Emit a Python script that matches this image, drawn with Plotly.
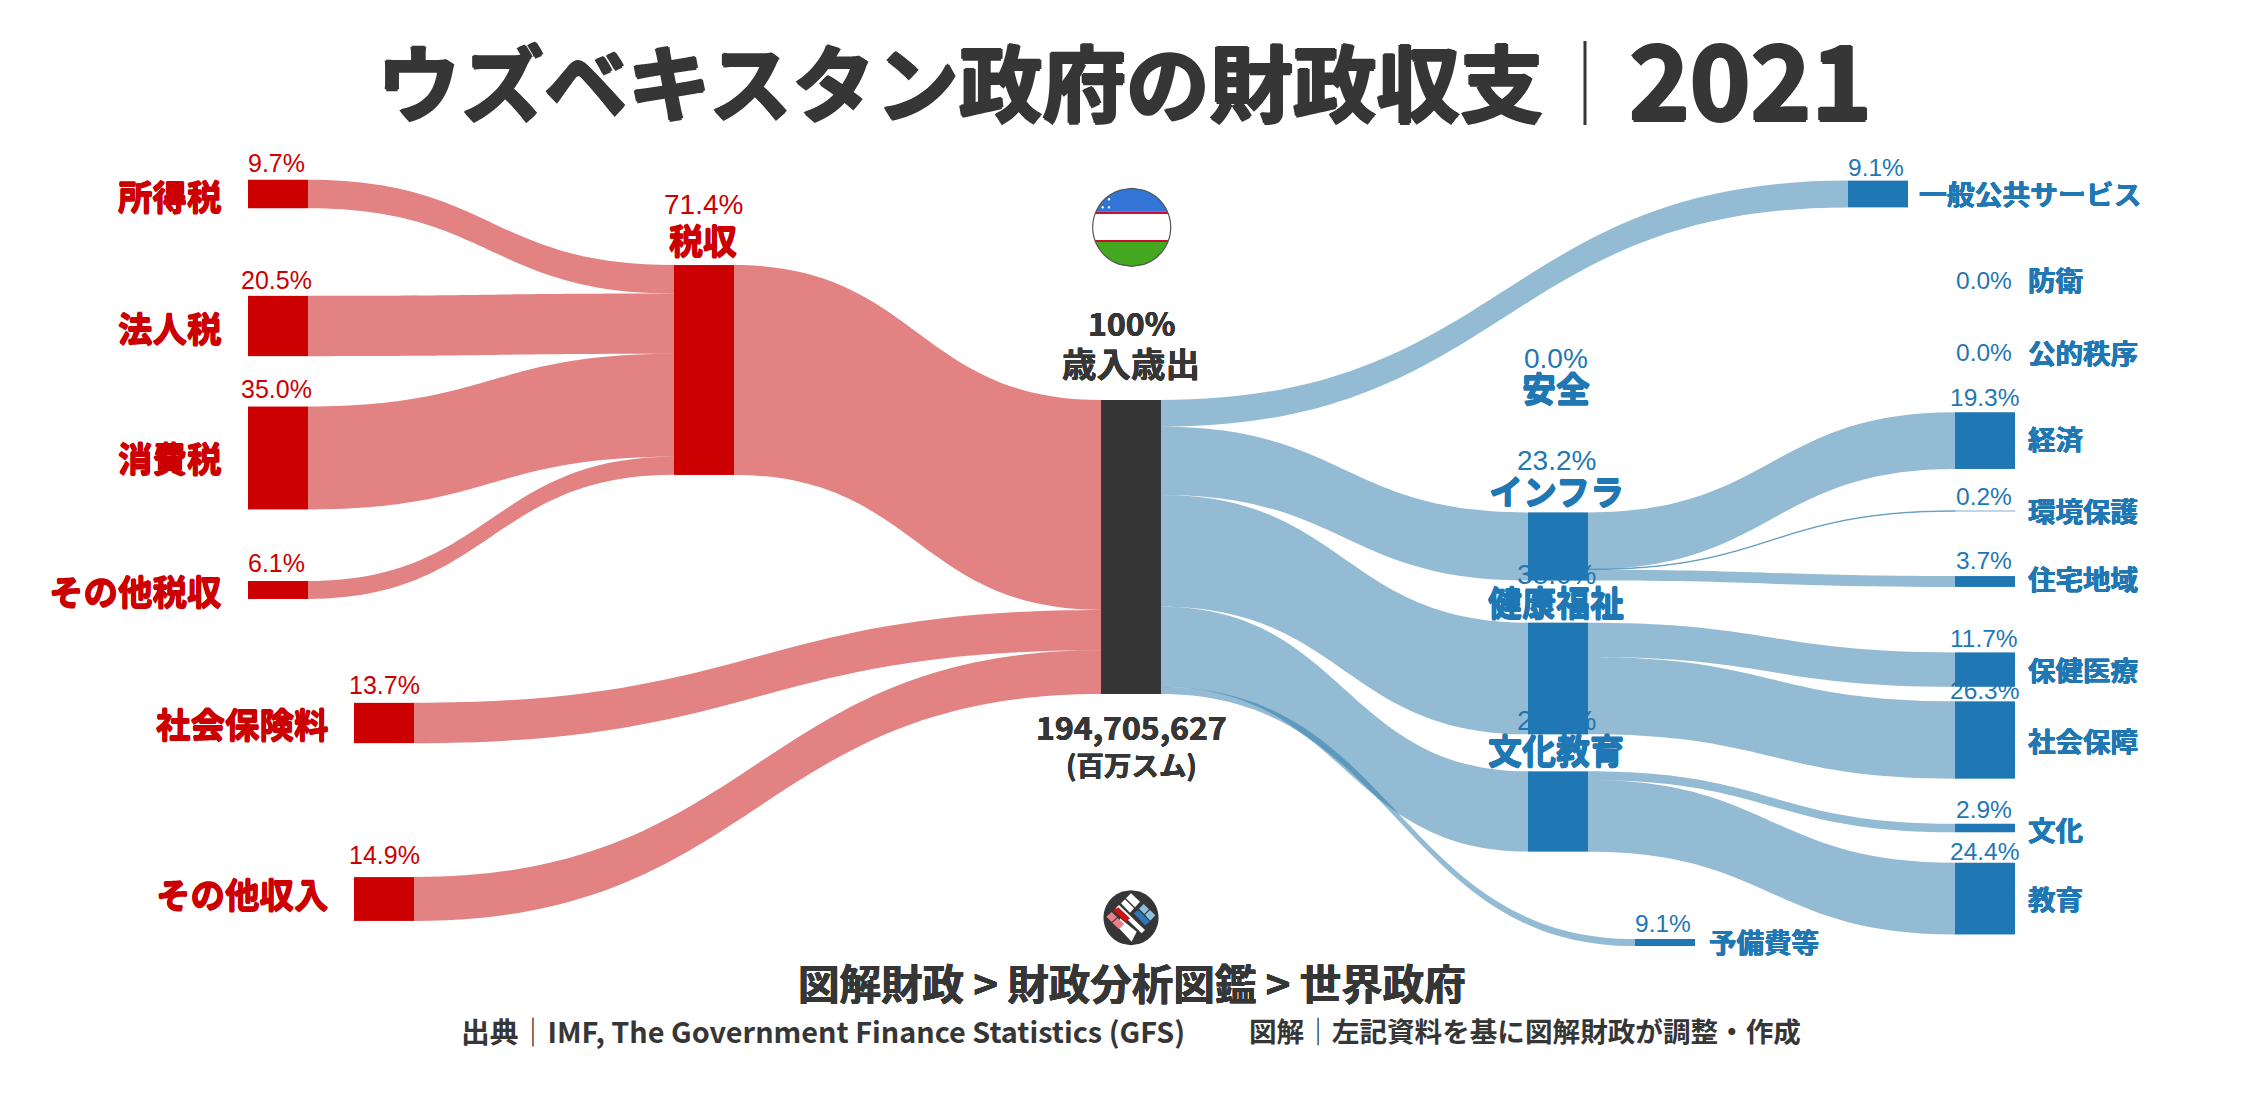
import math
import plotly.graph_objects as go

W, H = 2247, 1096
JP = "Noto Sans CJK JP"
LAT = "Liberation Sans"
RED, BLUE, DARK = "#cc0000", "#1f77b4", "#363636"

# ---- data -------------------------------------------------------------
node_names = ["所得税", "法人税", "消費税", "その他税収", "社会保険料", "その他収入", "税収", "歳入歳出",
              "一般公共サービス", "インフラ", "健康福祉", "文化教育", "予備費等",
              "経済", "環境保護", "住宅地域", "保健医療", "社会保障", "文化", "教育"]
link_from = ["所得税", "法人税", "消費税", "その他税収", "税収", "社会保険料", "その他収入",
             "歳入歳出", "歳入歳出", "歳入歳出", "歳入歳出", "歳入歳出",
             "インフラ", "インフラ", "インフラ", "健康福祉", "健康福祉", "文化教育", "文化教育"]
link_to = ["税収", "税収", "税収", "税収", "歳入歳出", "歳入歳出", "歳入歳出",
           "一般公共サービス", "インフラ", "健康福祉", "文化教育", "予備費等",
           "経済", "環境保護", "住宅地域", "保健医療", "社会保障", "文化", "教育"]
link_values = [9.7, 20.5, 35.0, 6.1, 71.4, 13.7, 14.9,
               9.1, 23.2, 38.0, 27.3, 2.4,
               19.3, 0.2, 3.7, 11.7, 26.3, 2.9, 24.4]

title_main = "ウズベキスタン政府の財政収支"
title_year = "2021"
total_text = ["100%", "歳入歳出", "194,705,627", "(百万スム)"]
crumb = "図解財政 > 財政分析図鑑 > 世界政府"
source_a = "出典｜IMF, The Government Finance Statistics (GFS)"
source_b = "図解｜左記資料を基に図解財政が調整・作成"

# ---- layout constants: node centres in page pixels ----------------------
node_cx = {"所得税": 278, "法人税": 278, "消費税": 278, "その他税収": 278, "社会保険料": 384, "その他収入": 384,
           "税収": 704, "歳入歳出": 1131, "一般公共サービス": 1878, "インフラ": 1558, "健康福祉": 1558, "文化教育": 1558,
           "予備費等": 1665, "経済": 1985, "環境保護": 1985, "住宅地域": 1985, "保健医療": 1985, "社会保障": 1985,
           "文化": 1985, "教育": 1985}
node_cy = {"所得税": 194, "法人税": 326, "消費税": 458, "その他税収": 590, "社会保険料": 723, "その他収入": 899,
           "税収": 370, "歳入歳出": 547, "一般公共サービス": 194, "インフラ": 546.5, "健康福祉": 678.5, "文化教育": 811.5,
           "予備費等": 942.5, "経済": 440.6, "環境保護": 511, "住宅地域": 581.5, "保健医療": 669.6, "社会保障": 740,
           "文化": 828, "教育": 898.6}
node_col = {n: RED for n in node_names[:7]}
node_col["歳入歳出"] = DARK
for n in node_names[8:]:
    node_col[n] = BLUE

idx = {n: i for i, n in enumerate(node_names)}
# Plotly caps padded space at 2/3 of the domain height, so node scale = domain height / 300 per %
DOM_TOP, DOM_H = 110, 882
link_cols = ["rgba(197,5,5,0.5)"] * 7 + ["rgba(40,119,170,0.5)"] * 12

fig = go.Figure(go.Sankey(
    arrangement="fixed",
    domain=dict(x=[0, 1], y=[1 - (DOM_TOP + DOM_H) / H, 1 - DOM_TOP / H]),
    node=dict(label=[""] * len(node_names), pad=100, thickness=60,
              x=[node_cx[n] / W for n in node_names], y=[(node_cy[n] - DOM_TOP) / DOM_H for n in node_names],
              color=[node_col[n] for n in node_names], line=dict(width=0), hoverinfo="skip"),
    link=dict(source=[idx[n] for n in link_from], target=[idx[n] for n in link_to], value=link_values,
              color=link_cols, line=dict(width=0), hoverinfo="skip"),
))

ann = []
def text(s, x, y, size, color=DARK, anchor="center", family=JP, weight=700, heavy=0.0):
    font = dict(family=family, size=size, color=color, weight=weight)
    if heavy:
        h = heavy
        font["shadow"] = f"{h}px 0 0 {color}, -{h}px 0 0 {color}, 0 {h}px 0 {color}, 0 -{h}px 0 {color}"
    ann.append(dict(text=s, x=x / W, y=1 - y / H, xref="paper", yref="paper", xanchor=anchor, yanchor="middle",
                    showarrow=False, borderpad=0, font=font))

# title
text(title_main, 960, 78, 83.5, heavy=1.5)
text("｜", 1585, 79, 84, weight=100)
text(title_year, 1750, 75, 103, heavy=1.5)

# left labels
for name, pct, lx, px_, ly, py_ in [("所得税", "9.7%", 223, 276, 195, 163), ("法人税", "20.5%", 223, 276, 327, 280),
                                    ("消費税", "35.0%", 223, 276, 457, 389), ("その他税収", "6.1%", 223, 276, 590, 563),
                                    ("社会保険料", "13.7%", 330, 384, 723, 685), ("その他収入", "14.9%", 330, 384, 893, 855)]:
    text(name, lx, ly, 34.5, RED, "right", heavy=0.6)
    text(pct, px_, py_, 25, RED, family=LAT, weight=400)
text("71.4%", 703, 204, 28, RED, family=LAT, weight=400)
text("税収", 703, 240, 34, RED, heavy=0.6)

# centre
text(total_text[0], 1131, 322, 32, heavy=0.3)
text(total_text[1], 1131, 362, 34.5, heavy=0.3)
text(total_text[2], 1131, 726, 32, heavy=0.3)
text(total_text[3], 1131, 764, 27.5, heavy=0.3)

# middle column
for name, pct, py_, ly in [("安全", "0.0%", 358, 388), ("インフラ", "23.2%", 460, 490),
                           ("健康福祉", "38.0%", 574, 601), ("文化教育", "27.3%", 720, 749)]:
    text(pct, 1556, py_, 28, BLUE, family=LAT, weight=400)
    text(name, 1556, ly, 34, BLUE, heavy=0.6)

# right column
for name, pct, py_, ly in [("防衛", "0.0%", 280, 279), ("公的秩序", "0.0%", 352, 352), ("経済", "19.3%", 398, 438),
                           ("環境保護", "0.2%", 497, 510), ("住宅地域", "3.7%", 560, 578), ("保健医療", "11.7%", 638, 669),
                           ("社会保障", "26.3%", 690, 740), ("文化", "2.9%", 809, 829), ("教育", "24.4%", 851, 898)]:
    text(pct, 1984, py_, 24.5, BLUE, family=LAT, weight=400)
    text(name, 2027, ly, 27.5, BLUE, "left", heavy=0.4)
text("9.1%", 1876, 167, 24.5, BLUE, family=LAT, weight=400)
text("一般公共サービス", 1918, 193, 27.8, BLUE, "left", heavy=0.4)
text("9.1%", 1663, 923, 24.5, BLUE, family=LAT, weight=400)
text("予備費等", 1708, 941, 27.5, BLUE, "left", heavy=0.4)

# footer
text(crumb, 1132, 982, 41.5, heavy=0.4)
text(source_a, 460, 1030, 28.8, anchor="left")
text(source_b, 1248, 1030, 27.6, anchor="left")

# ---- flag and logo (decoration, page pixels) ---------------------------
def poly(points, fill, line=None, lw=0):
    d = "M" + " L".join(f"{x / W:.5f},{1 - y / H:.5f}" for x, y in points) + " Z"
    return dict(type="path", xref="paper", yref="paper", path=d, fillcolor=fill, layer="above",
                line=dict(color=line or fill, width=lw))

def band(cx, cy, r, y0, y1):
    lo, hi = max(y0 - cy, -r), min(y1 - cy, r)
    steps = 40
    ys = [lo + (hi - lo) * i / steps for i in range(steps + 1)]
    right = [(cx + math.sqrt(max(r * r - v * v, 0)), cy + v) for v in ys]
    left = [(cx - math.sqrt(max(r * r - v * v, 0)), cy + v) for v in reversed(ys)]
    return right + left

shapes = []
fx, fy, fr = 1131.7, 227.3, 39
shapes.append(poly(band(fx, fy, fr, 188, 211.5), "#3375d6"))
shapes.append(poly(band(fx, fy, fr, 211.5, 214), "#c8102e"))
shapes.append(poly(band(fx, fy, fr, 214, 240), "#ffffff"))
shapes.append(poly(band(fx, fy, fr, 240, 242), "#c8102e"))
shapes.append(poly(band(fx, fy, fr, 242, 267), "#43a81f"))
shapes.append(poly(band(fx, fy, fr, 188, 267), "rgba(0,0,0,0)", "#555555", 1.2))
for sx, sy in [(1109, 199.3), (1102.7, 207.3), (1109, 207.3)]:
    shapes.append(poly(band(sx, sy, 1.2, sy - 2, sy + 2), "#ffffff"))

lx0, ly0 = 1095, 880
def lg(points):
    return [(lx0 + x / 3, ly0 + y / 3) for x, y in points]
shapes.append(poly(band(1131, 917.7, 27.5, 880, 950), DARK))
logo = [([(108, 40), (135, 65), (120, 82), (93, 55)], "#ffffff"), ([(90, 58), (117, 85), (105, 98), (78, 70)], "#ffffff"),
        ([(72, 75), (150, 150), (140, 160), (62, 85)], "#ffffff"),
        ([(75, 115), (125, 155), (110, 185), (72, 145)], "#ffffff"),
        ([(55, 92), (70, 82), (105, 115), (92, 126)], "#c81414"), ([(34, 110), (50, 96), (66, 112), (50, 126)], "#e8808c"),
        ([(52, 128), (68, 114), (88, 132), (72, 148)], "#e8808c"),
        ([(116, 100), (130, 90), (165, 125), (150, 136)], "#2c78b8"), ([(132, 86), (146, 72), (162, 88), (148, 102)], "#8ec0e0"),
        ([(150, 104), (165, 90), (181, 106), (166, 122)], "#8ec0e0")]
for pts, c in logo:
    shapes.append(poly(lg(pts), c))

fig.update_layout(width=W, height=H, margin=dict(l=0, r=0, t=0, b=0), paper_bgcolor="white",
                  annotations=ann, shapes=shapes, showlegend=False)
fig.write_html("out.html", config=dict(displayModeBar=False),
               post_script="document.body.style.margin='0';document.body.style.overflow='hidden';")
